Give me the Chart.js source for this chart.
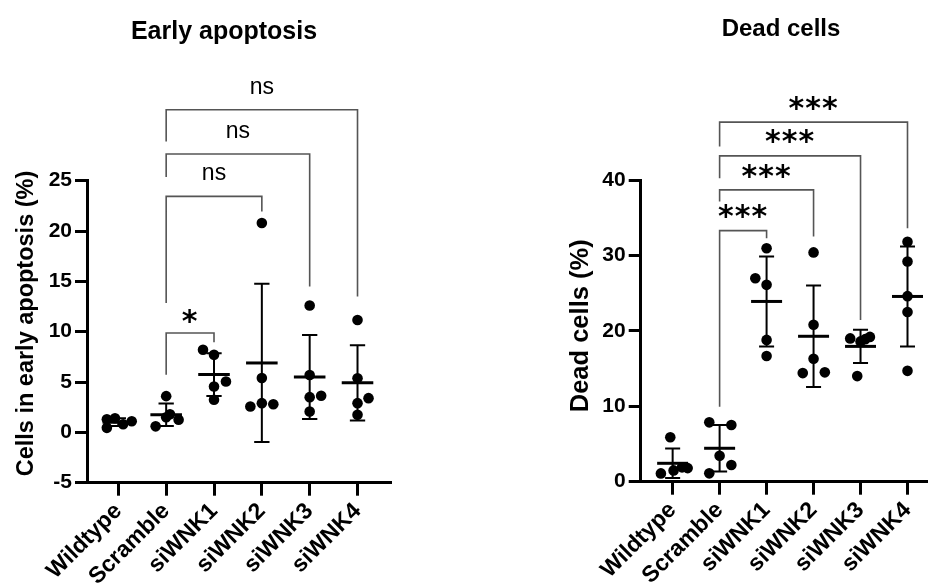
<!DOCTYPE html>
<html>
<head>
<meta charset="utf-8">
<script src="https://cdn.jsdelivr.net/npm/chart.js@4.4.1/dist/chart.umd.min.js"></script>
<style>
  html, body { margin: 0; padding: 0; background: #fff; }
  #wrap { position: relative; width: 933px; height: 585px; overflow: hidden; }
  canvas { position: absolute; top: 0; }
</style>
</head>
<body>
<div id="wrap">
  <canvas id="early" width="466" height="585" style="left:0"></canvas>
  <canvas id="dead" width="467" height="585" style="left:466px"></canvas>
</div>
<script>
// groups on the x axis
const groups = ["Wildtype", "Scramble", "siWNK1", "siWNK2", "siWNK3", "siWNK4"];

// cells in early apoptosis (%), 5 replicates per group
const earlyApoptosis = [
  [1.3, 0.45, 1.4, 0.8, 1.1],
  [3.6, 1.5, 0.6, 1.25, 1.8],
  [8.2, 7.7, 5.05, 4.55, 3.24],
  [20.8, 5.4, 2.57, 2.9, 2.8],
  [12.6, 5.7, 3.5, 3.63, 2.08],
  [11.16, 5.38, 2.9, 3.4, 1.75]
];
// dead cells (%)
const deadCells = [
  [5.9, 1.1, 1.5, 1.9, 1.8],
  [7.87, 7.52, 3.45, 2.21, 1.11],
  [30.95, 26.97, 26.1, 18.8, 16.67],
  [30.4, 20.8, 16.3, 14.4, 14.5],
  [19.0, 18.6, 19.2, 14.0, 18.9],
  [31.8, 29.2, 24.6, 22.5, 14.7]
];

// sideways spread of dots that would overlap (fraction of a group width)
const earlySpread = [
  [-0.24, -0.24, -0.07, 0.1, 0.28],
  [0, 0, -0.22, 0.26, 0.08],
  [-0.23, 0, 0.25, 0, 0],
  [0, 0, -0.24, 0, 0.24],
  [0, 0, 0, 0.24, 0],
  [0, 0, 0, 0.23, 0]
];
const deadSpread = [
  [-0.05, -0.25, 0.02, 0.2, 0.32],
  [-0.22, 0.25, 0, 0.25, -0.22],
  [0, -0.24, 0, 0, 0],
  [0, 0, 0, -0.23, 0.24],
  [-0.22, 0, 0.2, -0.07, 0.1],
  [0, 0, 0, 0, 0]
];

const earlyTicks = [-5, 0, 5, 10, 15, 20, 25];
const deadTicks = [0, 10, 20, 30, 40];

// brackets: [from group, to group, bar level, left leg end, right leg end, label, label level]
const earlyBrackets = [
  [1, 5, 32.05, 28.9, 13.5, "ns", 34.25],
  [1, 4, 27.65, 25.36, 14.5, "ns", 29.83],
  [1, 3, 23.44, 12.85, 21.95, "ns", 25.62],
  [1, 2, 9.87, 5.73, 8.94, "*", 11.69]
];
const deadBrackets = [
  [1, 5, 47.67, 44.43, 33.6, "***", 50.3],
  [1, 4, 43.2, 40.24, 21.45, "***", 45.98],
  [1, 3, 38.69, 37.14, 32.5, "***", 41.34],
  [1, 2, 33.29, 9.95, 32.28, "***", 36.0]
];

Chart.defaults.font.family = '"Liberation Sans", Arial, sans-serif';
Chart.defaults.color = "#000";

function makeChart(id, cfg) {
  const points = [];
  cfg.values.forEach((vals, i) => {
    vals.forEach((v, j) => points.push({ x: i + cfg.spread[i][j], y: v }));
  });

  // mean +/- SD, brackets, titles
  const extras = {
    id: "extras",
    afterDatasetsDraw(chart) {
      const { ctx, scales: { x, y } } = chart;
      ctx.save();
      ctx.strokeStyle = "#000";
      cfg.values.forEach((vals, i) => {
        const n = vals.length;
        const mean = vals.reduce((a, b) => a + b, 0) / n;
        const sd = Math.sqrt(vals.reduce((a, b) => a + (b - mean) ** 2, 0) / (n - 1));
        const cx = x.getPixelForValue(i);
        const halfMean = x.getPixelForValue(i + 0.33) - cx;
        const halfCap = x.getPixelForValue(i + 0.16) - cx;
        const yTop = y.getPixelForValue(mean + sd);
        const yBot = y.getPixelForValue(mean - sd);
        const yMean = y.getPixelForValue(mean);
        ctx.lineWidth = 2;
        ctx.beginPath();
        ctx.moveTo(cx, yTop); ctx.lineTo(cx, yBot);
        ctx.moveTo(cx - halfCap, yTop); ctx.lineTo(cx + halfCap, yTop);
        ctx.moveTo(cx - halfCap, yBot); ctx.lineTo(cx + halfCap, yBot);
        ctx.stroke();
        ctx.lineWidth = 3;
        ctx.beginPath();
        ctx.moveTo(cx - halfMean, yMean); ctx.lineTo(cx + halfMean, yMean);
        ctx.stroke();
      });

      ctx.strokeStyle = "#555";
      ctx.lineWidth = 1.6;
      ctx.fillStyle = "#000";
      ctx.textAlign = "center";
      ctx.textBaseline = "alphabetic";
      cfg.brackets.forEach(([a, b, level, endA, endB, label, labelAt]) => {
        const xa = x.getPixelForValue(a), xb = x.getPixelForValue(b);
        const yl = y.getPixelForValue(level);
        ctx.beginPath();
        ctx.moveTo(xa, y.getPixelForValue(endA));
        ctx.lineTo(xa, yl);
        ctx.lineTo(xb, yl);
        ctx.lineTo(xb, y.getPixelForValue(endB));
        ctx.stroke();
        const lx = x.getPixelForValue((a + b) / 2), ly = y.getPixelForValue(labelAt);
        if (label === "ns") {
          ctx.font = '23px "Liberation Sans", Arial, sans-serif';
          ctx.letterSpacing = "0px";
          ctx.fillText(label, lx, ly + 6);
        } else {
          ctx.font = 'bold 30px "DejaVu Sans", sans-serif';
          ctx.letterSpacing = "1px";
          ctx.fillText(label, lx, ly + 16);
        }
      });
      ctx.letterSpacing = "0px";

      ctx.font = 'bold ' + cfg.titleSize + 'px "Liberation Sans", Arial, sans-serif';
      ctx.fillText(cfg.title, cfg.titleX, cfg.titleY);

      ctx.translate(cfg.axisTitleX, cfg.axisTitleY);
      ctx.rotate(-Math.PI / 2);
      ctx.font = 'bold ' + cfg.axisTitleSize + 'px "Liberation Sans", Arial, sans-serif';
      ctx.fillText(cfg.axisTitle, 0, 0);
      ctx.restore();
    }
  };

  return new Chart(document.getElementById(id), {
    type: "scatter",
    data: {
      datasets: [{
        data: points,
        backgroundColor: "#000",
        pointRadius: 5.3,
        pointBorderWidth: 0,
        clip: false
      }]
    },
    options: {
      responsive: false,
      animation: false,
      events: [],
      layout: { padding: { top: cfg.padTop, right: cfg.padRight, left: 0, bottom: 0 } },
      plugins: { legend: { display: false }, tooltip: { enabled: false } },
      scales: {
        x: {
          type: "linear",
          min: cfg.xMin,
          max: cfg.xMax,
          afterBuildTicks: s => { s.ticks = groups.map((g, i) => ({ value: i })); },
          afterFit: s => { s.height = cfg.xAxisHeight; s.paddingLeft = 0; s.paddingRight = 0; },
          ticks: {
            autoSkip: false,
            minRotation: 45,
            maxRotation: 45,
            padding: 2,
            color: "#000",
            font: { size: 23, weight: "bold" },
            callback: (v, i) => groups[i]
          },
          grid: { drawOnChartArea: false, tickLength: 13, tickWidth: 3, color: "#000" },
          border: { color: "#000", width: 3 }
        },
        y: {
          min: cfg.yMin,
          max: cfg.yMax,
          afterBuildTicks: s => { s.ticks = cfg.yTicks.map(v => ({ value: v })); },
          afterFit: s => { s.width = cfg.yAxisWidth; s.paddingTop = 0; s.paddingBottom = 0; },
          ticks: { padding: 3, color: "#000", font: { size: 21, weight: "bold" } },
          grid: { drawOnChartArea: false, tickLength: 12, tickWidth: 3, color: "#000" },
          border: { color: "#000", width: 3 }
        }
      }
    },
    plugins: [extras]
  });
}

makeChart("early", {
  values: earlyApoptosis, spread: earlySpread, brackets: earlyBrackets,
  yTicks: earlyTicks, yMin: -5, yMax: 25, xMin: -0.655, xMax: 5.7,
  yAxisWidth: 87, xAxisHeight: 102.3, padTop: 180.7, padRight: 75,
  title: "Early apoptosis", titleSize: 25, titleX: 224, titleY: 39,
  axisTitle: "Cells in early apoptosis (%)", axisTitleSize: 23.5, axisTitleX: 33, axisTitleY: 323.5
});

makeChart("dead", {
  values: deadCells, spread: deadSpread, brackets: deadBrackets,
  yTicks: deadTicks, yMin: 0, yMax: 40, xMin: -0.68, xMax: 5.43,
  yAxisWidth: 174.7, xAxisHeight: 103.3, padTop: 180, padRight: 0,
  title: "Dead cells", titleSize: 24, titleX: 315, titleY: 36,
  axisTitle: "Dead cells (%)", axisTitleSize: 25.5, axisTitleX: 122, axisTitleY: 325.8
});
</script>
</body>
</html>
